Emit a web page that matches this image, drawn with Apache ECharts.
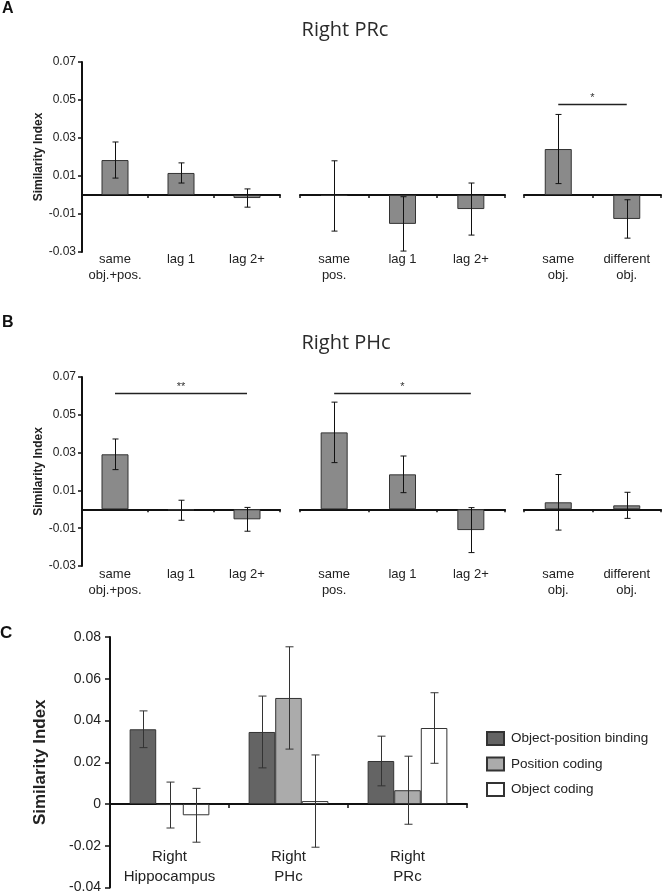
<!DOCTYPE html>
<html><head><meta charset="utf-8">
<script src="https://cdn.jsdelivr.net/npm/echarts@6/dist/echarts.min.js"></script>
<style>html,body{margin:0;padding:0;background:#fff}#c{width:662px;height:891px}</style>
</head><body><div id="c"></div>
<script>
// ---------- categories ----------
const catsObjPos = ['same\nobj.+pos.', 'lag 1', 'lag 2+'];
const catsPos = ['same\npos.', 'lag 1', 'lag 2+'];
const catsObj = ['same\nobj.', 'different\nobj.'];

// ---------- Panel A: Right PRc ----------
const prcObjPos = [0.0184, 0.0116, -0.0016];
const prcObjPosErr = [0.0095, 0.0053, 0.0048];
const prcPos = [-0.0005, -0.0152, -0.0074];
const prcPosErr = [0.0185, 0.0143, 0.0137];
const prcObj = [0.0242, -0.0126];
const prcObjErr = [0.0182, 0.0101];
const prcSigObj = [[0, 1, 0.048, '*']];

// ---------- Panel B: Right PHc ----------
const phcObjPos = [0.0291, -0.0005, -0.0053];
const phcObjPosErr = [0.0081, 0.0053, 0.0063];
const phcPos = [0.0407, 0.0185, -0.0110];
const phcPosErr = [0.0160, 0.0097, 0.0119];
const phcObj = [0.0037, 0.0021];
const phcObjErr = [0.0147, 0.0069];
const phcSigObjPos = [[0, 2, 0.0614, '**']];
const phcSigPos = [[0, 2, 0.0614, '*']];

// ---------- Panel C ----------
const regions = ['Right\nHippocampus', 'Right\nPHc', 'Right\nPRc'];
const codingNames = ['Object-position binding', 'Position coding', 'Object coding'];
const bindingVals = [0.0358, 0.0345, 0.0206];
const bindingErr = [0.0088, 0.0172, 0.0119];
const positionVals = [-0.0005, 0.0508, 0.0066];
const positionErr = [0.0110, 0.0245, 0.0163];
const objectVals = [-0.0054, 0.0014, 0.0364];
const objectErr = [0.0129, 0.0221, 0.0169];

// ---------- axis scales ----------
const abMin = -0.03, abMax = 0.07, abInterval = 0.02;
const cMin = -0.04, cMax = 0.08, cInterval = 0.02;

const FONT = 'Liberation Sans, Arial, sans-serif';
const option = {
  animation: false,
  backgroundColor: '#fff',
  grid: [], xAxis: [], yAxis: [], series: [], graphic: []
};

function errorBars(seriesPos, seriesCount, catGap, capHalf, color) {
  return function (params, api) {
    const i = api.value(0);
    const top = api.coord([i, api.value(2)]);
    const bot = api.coord([i, api.value(1)]);
    let dx = 0;
    if (seriesCount > 1) {
      const band = api.size([1, 0])[0];
      const bw = band * (1 - catGap) / seriesCount;
      dx = (seriesPos - (seriesCount - 1) / 2) * bw;
    }
    const x = Math.round(top[0] + dx) + 0.5;
    const st = { stroke: color, lineWidth: 1 };
    return { type: 'group', children: [
      { type: 'line', shape: { x1: x, y1: top[1], x2: x, y2: bot[1] }, style: st },
      { type: 'line', shape: { x1: x - capHalf, y1: top[1], x2: x + capHalf, y2: top[1] }, style: st },
      { type: 'line', shape: { x1: x - capHalf, y1: bot[1], x2: x + capHalf, y2: bot[1] }, style: st }
    ]};
  };
}

function sigBracket(list) {
  return function (params, api) {
    const y = api.value(2);
    const p0 = api.coord([api.value(0), y]);
    const p1 = api.coord([api.value(1), y]);
    const yy = Math.round(p0[1]) + 0.5;
    return { type: 'group', children: [
      { type: 'line', shape: { x1: p0[0], y1: yy, x2: p1[0], y2: yy }, style: { stroke: '#222', lineWidth: 1.6 } },
      { type: 'text', x: (p0[0] + p1[0]) / 2, y: yy - 1,
        style: { text: list[params.dataIndex][3], fill: '#333', font: '11px ' + FONT,
                 align: 'center', verticalAlign: 'bottom', textAlign: 'center', textVerticalAlign: 'bottom' } }
    ]};
  };
}

function fmt(v) {
  const r = Math.round(v * 100) / 100;
  return Math.abs(r) < 1e-9 ? '0' : r.toFixed(2);
}

// a group of bars in its own grid (panels A and B)
function addGroup(rect, cats, vals, errs, showY, labelMargin, sig) {
  const gi = option.grid.length;
  option.grid.push(Object.assign({ containLabel: false, outerBoundsMode: 'none' }, rect));
  const yi = option.yAxis.length;
  option.yAxis.push({
    gridIndex: gi, type: 'value', min: abMin, max: abMax, interval: abInterval, show: showY,
    axisLine: { show: true, onZero: false, lineStyle: { color: '#111', width: 2 } },
    axisTick: { show: true, length: 4, lineStyle: { color: '#111', width: 1.5 } },
    axisLabel: { fontFamily: FONT, fontSize: 12, color: '#222', margin: 6, formatter: fmt },
    splitLine: { show: false },
    name: 'Similarity Index', nameLocation: 'middle', nameGap: 36,
    nameTextStyle: { fontFamily: FONT, fontSize: 12, fontWeight: 'bold', color: '#222' }
  });
  const xi = option.xAxis.length;
  option.xAxis.push({
    gridIndex: gi, type: 'category', data: cats, position: 'bottom',
    axisLine: { show: true, onZero: true, lineStyle: { color: '#111', width: 2 } },
    axisTick: { show: true, length: 3, lineStyle: { color: '#111', width: 1.5 } },
    axisLabel: { show: false }
  });
  option.xAxis.push({
    gridIndex: gi, type: 'category', data: cats, position: 'bottom',
    axisLine: { show: false, onZero: false }, axisTick: { show: false },
    axisLabel: { show: true, interval: 0, fontFamily: FONT, fontSize: 13, lineHeight: 16, color: '#222', margin: labelMargin }
  });
  option.series.push({
    type: 'bar', xAxisIndex: xi, yAxisIndex: yi, data: vals, barWidth: 27,
    itemStyle: { color: '#8a8a8a', borderColor: '#333', borderWidth: 1 }, z: 2
  });
  option.series.push({
    type: 'custom', xAxisIndex: xi, yAxisIndex: yi, z: 5,
    renderItem: errorBars(0, 1, 0, 3, '#111'),
    data: vals.map((v, i) => [i, v - errs[i], v + errs[i]]),
    encode: { x: 0, y: [1, 2] }
  });
  if (sig) {
    option.series.push({
      type: 'custom', xAxisIndex: xi, yAxisIndex: yi, z: 5,
      renderItem: sigBracket(sig),
      data: sig.map(s => [s[0], s[1], s[2]]),
      encode: { x: [0, 1], y: 2 }
    });
  }
}

// Panel A
addGroup({ left: 82, top: 62, width: 198, height: 190 }, catsObjPos, prcObjPos, prcObjPosErr, true, -1, null);
addGroup({ left: 300, top: 62, width: 205, height: 190 }, catsPos, prcPos, prcPosErr, false, -1, null);
addGroup({ left: 524, top: 62, width: 137, height: 190 }, catsObj, prcObj, prcObjErr, false, -1, prcSigObj);
// Panel B
addGroup({ left: 82, top: 377, width: 198, height: 189 }, catsObjPos, phcObjPos, phcObjPosErr, true, 0, phcSigObjPos);
addGroup({ left: 300, top: 377, width: 205, height: 189 }, catsPos, phcPos, phcPosErr, false, 0, phcSigPos);
addGroup({ left: 524, top: 377, width: 137, height: 189 }, catsObj, phcObj, phcObjErr, false, 0, null);

// Panel C
(function () {
  const gi = option.grid.length;
  option.grid.push({ left: 110, top: 637, width: 357, height: 250.5, containLabel: false, outerBoundsMode: 'none' });
  const yi = option.yAxis.length;
  option.yAxis.push({
    gridIndex: gi, type: 'value', min: cMin, max: cMax, interval: cInterval,
    axisLine: { show: true, onZero: false, lineStyle: { color: '#111', width: 2 } },
    axisTick: { show: true, length: 5, lineStyle: { color: '#111', width: 1.5 } },
    axisLabel: { fontFamily: FONT, fontSize: 14, color: '#222', margin: 9, formatter: fmt },
    splitLine: { show: false },
    name: 'Similarity Index', nameLocation: 'middle', nameGap: 61,
    nameTextStyle: { fontFamily: FONT, fontSize: 17, fontWeight: 'bold', color: '#222' }
  });
  const xi = option.xAxis.length;
  option.xAxis.push({
    gridIndex: gi, type: 'category', data: regions, position: 'bottom',
    axisLine: { show: true, onZero: true, lineStyle: { color: '#111', width: 2 } },
    axisTick: { show: true, length: 4, lineStyle: { color: '#111', width: 1.5 } },
    axisLabel: { show: false }
  });
  option.xAxis.push({
    gridIndex: gi, type: 'category', data: regions, position: 'bottom',
    axisLine: { show: false, onZero: false }, axisTick: { show: false },
    axisLabel: { show: true, interval: 0, fontFamily: FONT, fontSize: 15, lineHeight: 20, color: '#222',
                 margin: -1, verticalAlign: 'bottom' }
  });
  const sets = [[bindingVals, bindingErr, '#646464'], [positionVals, positionErr, '#ababab'], [objectVals, objectErr, '#ffffff']];
  const gap = 0.33;
  sets.forEach((s, k) => {
    option.series.push({
      type: 'bar', name: codingNames[k], xAxisIndex: xi, yAxisIndex: yi, data: s[0],
      barCategoryGap: '33%', barGap: '0%',
      itemStyle: { color: s[2], borderColor: '#333', borderWidth: 1 }, z: 2
    });
  });
  sets.forEach((s, k) => {
    option.series.push({
      type: 'custom', xAxisIndex: xi, yAxisIndex: yi, z: 5,
      renderItem: errorBars(k, 3, gap, 4, '#333'),
      data: s[0].map((v, i) => [i, v - s[1][i], v + s[1][i]]),
      encode: { x: 0, y: [1, 2] }
    });
  });
})();

option.legend = {
  data: codingNames, left: 486, top: 731, orient: 'vertical', icon: 'rect',
  itemWidth: 17, itemHeight: 13, itemGap: 10.5, padding: 0,
  textStyle: { fontFamily: FONT, fontSize: 13.5, color: '#222', padding: [0, 0, 0, 2] }
};

option.graphic = [
  { type: 'text', x: 2, y: 1, style: { text: 'A', font: 'bold 16px ' + FONT, fill: '#111' } },
  { type: 'text', x: 345, y: 30, style: { text: 'Right PRc', font: '20px "Open Sans", sans-serif', fill: '#2a2a2a', align: 'center', verticalAlign: 'middle' } },
  { type: 'text', x: 2, y: 315, style: { text: 'B', font: 'bold 16px ' + FONT, fill: '#111' } },
  { type: 'text', x: 346, y: 343, style: { text: 'Right PHc', font: '20px "Open Sans", sans-serif', fill: '#2a2a2a', align: 'center', verticalAlign: 'middle' } },
  { type: 'text', x: 0, y: 625, style: { text: 'C', font: 'bold 17px ' + FONT, fill: '#111' } }
];

const chart = echarts.init(document.getElementById('c'), null, { renderer: 'canvas' });
chart.setOption(option);
</script>
</body></html>
